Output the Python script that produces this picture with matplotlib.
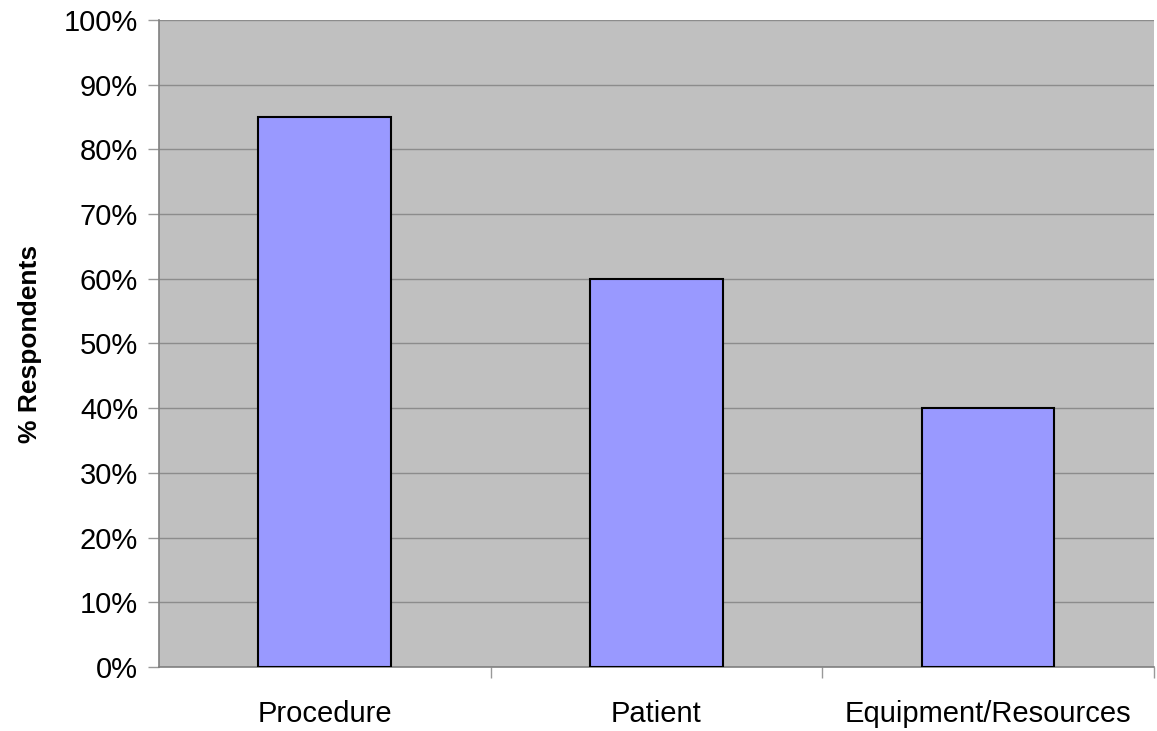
import matplotlib
matplotlib.use('Agg')
import matplotlib.pyplot as plt
from matplotlib.ticker import FixedLocator, PercentFormatter

categories = ['Procedure', 'Patient', 'Equipment/Resources']
respondents = [85, 60, 40]

plt.rcParams['font.family'] = ['Liberation Sans', 'DejaVu Sans']

fig = plt.figure(figsize=(11.57, 7.31), dpi=100)
ax = fig.add_axes([0.1374, 0.0876, 0.86, 0.885])
ax.set_facecolor('#c0c0c0')

x = range(len(categories))
ax.bar(x, respondents, width=0.4, color='#9999ff', edgecolor='#000000',
       linewidth=1.5, zorder=3)

ax.set_xlim(-0.5, len(categories) - 0.5)
ax.set_ylim(0, 100)
ax.set_yticks(range(0, 101, 10))
ax.yaxis.set_major_formatter(PercentFormatter(decimals=0))
ax.yaxis.grid(True, color='#8c8c8c', linewidth=1.0, zorder=1)

# category labels centred under bars, tick marks between categories
ax.set_xticks(list(x))
ax.set_xticklabels(categories, fontsize=21)
ax.tick_params(axis='x', length=0, pad=24)
ax.xaxis.set_minor_locator(FixedLocator([0.5, 1.5, 2.5]))
ax.tick_params(axis='x', which='minor', length=8, color='#999999', width=1)
ax.tick_params(axis='y', labelsize=21, length=8, color='#999999', width=1, pad=7)

for side in ['top', 'right']:
    ax.spines[side].set_visible(False)
for side in ['left', 'bottom']:
    ax.spines[side].set_color('#808080')
    ax.spines[side].set_linewidth(1.2)

ax.set_ylabel('% Respondents', fontsize=19, fontweight='bold', labelpad=16)

plt.savefig('out.png', dpi=100)
